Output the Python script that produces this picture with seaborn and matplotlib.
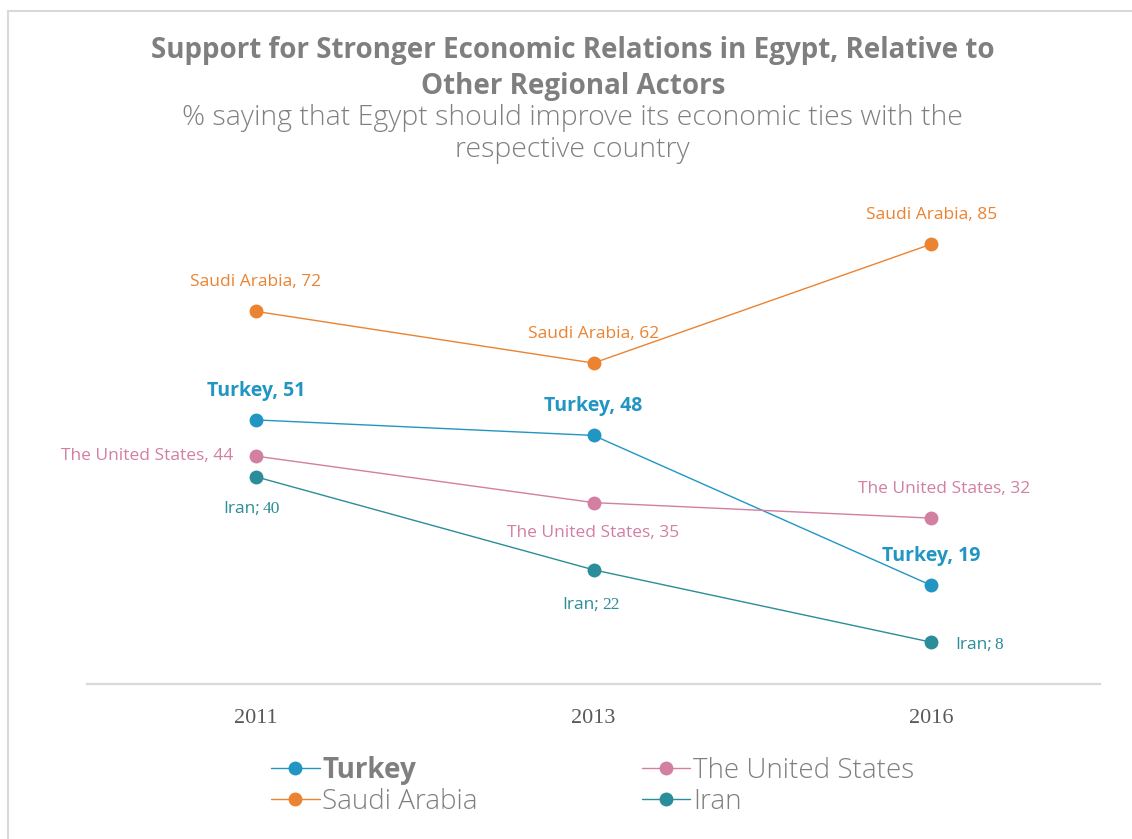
import matplotlib
matplotlib.use("Agg")
import matplotlib.pyplot as plt
from matplotlib.lines import Line2D
import seaborn as sns
import pandas as pd

years = ["2011", "2013", "2016"]
countries = ["Turkey", "Saudi Arabia", "The United States", "Iran"]
turkey = [51, 48, 19]
saudi = [72, 62, 85]
usa = [44, 35, 32]
iran = [40, 22, 8]

colors = {
    "Turkey": "#2196C2",
    "Saudi Arabia": "#EB8331",
    "The United States": "#D27FA2",
    "Iran": "#2A8D99",
}

values = {"Turkey": turkey, "Saudi Arabia": saudi, "The United States": usa, "Iran": iran}
rows = []
for c in countries:
    for i, y in enumerate(years):
        rows.append({"pos": i, "year": y, "country": c, "value": values[c][i]})
df = pd.DataFrame(rows)

sns.set_theme(style="white")
plt.rcParams["font.family"] = ["Open Sans", "DejaVu Sans"]

fig = plt.figure(figsize=(11.32, 8.39), dpi=100)
ax = fig.add_axes([87 / 1132, 0.1853, (1100 - 87) / 1132, 0.6161])

sns.lineplot(data=df, x="pos", y="value", hue="country", hue_order=countries,
             palette=colors, marker="o", markersize=10, markeredgewidth=0,
             linewidth=1.0, sort=False, ax=ax, legend=False)

ax.set_xlim(-0.5, 2.5)
ax.set_ylim(0, 100)
ax.set_xticks(range(len(years)))
ax.set_xticklabels(years, family="Liberation Serif", fontsize=16, color="#595959")
ax.tick_params(axis="x", length=0, pad=18)
ax.set_yticks([])
ax.set_xlabel("")
ax.set_ylabel("")
for s in ["top", "left", "right"]:
    ax.spines[s].set_visible(False)
ax.spines["bottom"].set_color("#d9d9d9")
ax.spines["bottom"].set_linewidth(1.6)

lab_fs = 12.5

def lab(text, x, y, dx, dy, color, ha="center", bold=False, fs=lab_fs):
    return ax.annotate(text, xy=(x, y), xytext=(dx, dy), textcoords="offset points",
                       ha=ha, va="center", color=color, fontsize=fs,
                       fontweight="bold" if bold else "normal", annotation_clip=False)

# Saudi Arabia labels
for i in range(3):
    lab(f"Saudi Arabia, {saudi[i]}", i, saudi[i], 0, 21, colors["Saudi Arabia"])
# Turkey labels
for i in range(3):
    lab(f"Turkey, {turkey[i]}", i, turkey[i], 0, 21, colors["Turkey"], bold=True, fs=14)
# US labels
lab(f"The United States, {usa[0]}", 0, usa[0], -16, 0, colors["The United States"], ha="right")
lab(f"The United States, {usa[1]}", 1, usa[1], 0, -22, colors["The United States"])
lab(f"The United States, {usa[2]}", 2, usa[2], 9, 21, colors["The United States"])

# Iran labels: sans word + serif number
def iran_lab(i, dx, dy, ha):
    t = ax.annotate("Iran;", xy=(i, iran[i]), xytext=(dx, dy), textcoords="offset points",
                    ha=ha, va="baseline", color=colors["Iran"], fontsize=lab_fs,
                    annotation_clip=False)
    ax.annotate(str(iran[i]), xy=(1, 0), xycoords=t, xytext=(2, 0),
                textcoords="offset points", ha="left", va="bottom",
                family="Liberation Serif", color=colors["Iran"], fontsize=lab_fs,
                annotation_clip=False)

iran_lab(0, 3, -26, "right")
iran_lab(1, 4, -28, "right")
iran_lab(2, 17, -5, "left")

# Title and subtitle
fig.text(0.506, 1 - 68.5 / 839, "Support for Stronger Economic Relations in Egypt, Relative to\nOther Regional Actors",
         ha="center", va="center", fontsize=20, fontweight="bold", color="#7f7f7f",
         linespacing=1.28)
fig.text(0.506, 1 - 134 / 839, "% saying that Egypt should improve its economic ties with the\nrespective country",
         ha="center", va="center", fontsize=20.5, fontweight="light", color="#808080",
         linespacing=1.18)

# Legend
handles = [Line2D([0], [0], color=colors[c], marker="o", markersize=10,
                  markeredgewidth=0, linewidth=1.0) for c in countries]
leg = fig.legend(handles, countries, loc="center left",
                 bbox_to_anchor=(257 / 1132, 1 - 786 / 839), ncol=2, frameon=False,
                 fontsize=20, handlelength=1.75, handletextpad=0.1,
                 columnspacing=5.9, labelspacing=0.12, borderpad=0)
for t in leg.get_texts():
    t.set_color("#7f7f7f")
    t.set_fontweight("light")
leg.get_texts()[0].set_fontweight("bold")

# Frame border (left & top)
x0 = 8 / 1132
y1 = 1 - 11 / 839
fig.add_artist(Line2D([x0, x0], [0, y1], transform=fig.transFigure, color="#d9d9d9", lw=1.5))
fig.add_artist(Line2D([x0, 1], [y1, y1], transform=fig.transFigure, color="#d9d9d9", lw=1.5))

fig.savefig("out.png", dpi=100)
